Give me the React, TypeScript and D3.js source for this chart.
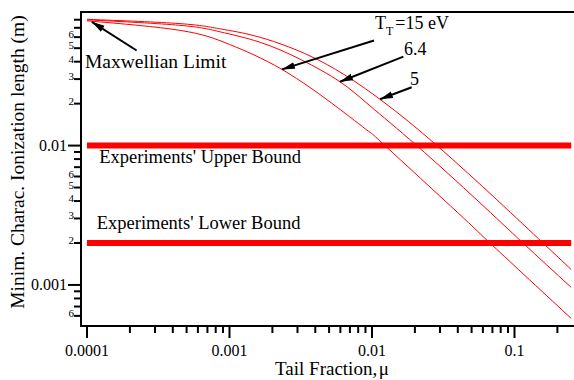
import * as d3 from 'd3'

// Tail fraction (x) and minimum characteristic ionization length (y) for each tail temperature
const MU_15 = [0.0001, 0.00045, 0.001, 0.00233, 0.00577, 0.00968, 0.01233, 0.04, 0.0673, 0.25]
const LEN_15 = [0.0786, 0.0671, 0.0532, 0.03524, 0.01865, 0.01244, 0.01, 0.0033, 0.002, 0.000575]

const MU_64 = [0.0001, 0.00045, 0.00086, 0.00164, 0.0032, 0.00596, 0.00968, 0.0206, 0.0555, 0.1147, 0.25]
const LEN_64 = [0.0799, 0.0729, 0.0655, 0.0551, 0.0412, 0.0287, 0.01928, 0.01, 0.004, 0.002, 0.00096]

const MU_5 = [0.0001, 0.00045, 0.00086, 0.00164, 0.00431, 0.01137, 0.02858, 0.0753, 0.1585, 0.25]
const LEN_5 = [0.0805, 0.075, 0.0688, 0.0598, 0.0406, 0.0215, 0.01, 0.00408, 0.002, 0.00129]

const UPPER_BOUND = 0.01
const LOWER_BOUND = 0.002

const X_MAJOR = [0.0001, 0.001, 0.01, 0.1]
const X_MAJOR_LABELS = ['0.0001', '0.001', '0.01', '0.1']
const Y_MAJOR = [0.001, 0.01]
const Y_MAJOR_LABELS = ['0.001', '0.01']
const Y_MINOR_LABELED = [2, 3, 4, 5, 6]

const W = 574
const H = 380
const FONT = '"Liberation Serif", "Times New Roman", serif'

const x = d3.scaleLog().domain([0.0001, 0.25]).range([87, 571.2])
const y = d3.scaleLog().domain([0.0005, 0.09]).range([326.9, 12.6])

const frameLeft = x(0.0001) - 6
const frameBottom = 326
const frameTop = 12

const line = d3.line<[number, number]>()
  .x(d => x(d[0]))
  .y(d => y(d[1]))
  .curve(d3.curveNatural)

const zip = (a: number[], b: number[]) => a.map((v, i) => [v, b[i]] as [number, number])

// minor ticks: 2..9 of each decade inside the domains
const xMinor: number[] = []
for (let e = -4; e <= -1; e++) {
  for (let k = 2; k <= 9; k++) {
    const v = k * Math.pow(10, e)
    if (v <= 0.25) xMinor.push(v)
  }
}
const yMinor: { v: number; k: number }[] = []
for (let e = -4; e <= -2; e++) {
  for (let k = 2; k <= 9; k++) {
    const v = k * Math.pow(10, e)
    if (v > 0.00055 && v < 0.085) yMinor.push({ v, k })
  }
}

// annotations: [tail mu, tail len, tip mu, tip len]
const ARROWS = [
  [0.000223, 0.0481, 0.000108, 0.0773],
  [0.01033, 0.0568, 0.00233, 0.0352],
  [0.0166, 0.0435, 0.00596, 0.0287],
  [0.019, 0.0262, 0.01137, 0.0215],
]

export default function App() {
  const curves = [zip(MU_15, LEN_15), zip(MU_64, LEN_64), zip(MU_5, LEN_5)]
  return (
    <svg width={W} height={H} style={{ position: 'absolute', left: 0, top: 0, background: '#fff' }} fontFamily={FONT}>
      <defs>
        <marker id="head" markerUnits="userSpaceOnUse" markerWidth="14" markerHeight="8" refX="13" refY="4" orient="auto">
          <path d="M0,0.5 L13,4 L0,7.5 Z" fill="#000" />
        </marker>
      </defs>

      {/* experimental bounds */}
      {[UPPER_BOUND, LOWER_BOUND].map(b => (
        <line key={b} x1={x(0.0001)} x2={x(0.25)} y1={y(b)} y2={y(b)} stroke="#ff0000" strokeWidth={6} />
      ))}

      {/* curves */}
      {curves.map((c, i) => (
        <path key={i} d={line(c) || ''} fill="none" stroke="#ff0000" strokeWidth={1} />
      ))}

      {/* frame */}
      <line x1={frameLeft} x2={frameLeft} y1={frameTop} y2={frameBottom + 1} stroke="#000" strokeWidth={2} />
      <line x1={frameLeft - 1} x2={W} y1={frameBottom} y2={frameBottom} stroke="#000" strokeWidth={2} />
      <line x1={frameLeft - 1} x2={W} y1={frameTop} y2={frameTop} stroke="#000" strokeWidth={2} />

      {/* x ticks */}
      {X_MAJOR.map((v, i) => (
        <g key={v}>
          <line x1={x(v)} x2={x(v)} y1={frameBottom} y2={frameBottom + 12} stroke="#000" strokeWidth={2} />
          <text x={x(v)} y={356} textAnchor="middle" fontSize={16}>{X_MAJOR_LABELS[i]}</text>
        </g>
      ))}
      {xMinor.map(v => (
        <line key={v} x1={x(v)} x2={x(v)} y1={frameBottom} y2={frameBottom + 7} stroke="#000" strokeWidth={2} />
      ))}

      {/* y ticks */}
      {Y_MAJOR.map((v, i) => (
        <g key={v}>
          <line x1={frameLeft - 13} x2={frameLeft} y1={y(v)} y2={y(v)} stroke="#000" strokeWidth={2} />
          <text x={frameLeft - 14} y={y(v) + 5} textAnchor="end" fontSize={16}>{Y_MAJOR_LABELS[i]}</text>
        </g>
      ))}
      {yMinor.map(({ v, k }) => (
        <g key={v}>
          <line x1={frameLeft - 7} x2={frameLeft} y1={y(v)} y2={y(v)} stroke="#000" strokeWidth={2} />
          {Y_MINOR_LABELED.includes(k) && (
            <text x={frameLeft - 7} y={y(v) + 1} textAnchor="end" fontSize={11}>{k}</text>
          )}
        </g>
      ))}

      {/* axis titles */}
      <text x={332} y={375} textAnchor="middle" fontSize={19}>Tail Fraction,&#8202;μ</text>
      <text transform={`translate(24,162) rotate(-90)`} textAnchor="middle" fontSize={19.5}>
        Minim. Charac. Ionization length (m)
      </text>

      {/* annotations */}
      {ARROWS.map((a, i) => (
        <line key={i} x1={x(a[0])} y1={y(a[1])} x2={x(a[2])} y2={y(a[3])} stroke="#000" strokeWidth={2} markerEnd="url(#head)" />
      ))}
      <text x={x(0.0000968)} y={y(0.0361)} fontSize={19.5}>Maxwellian Limit</text>
      <text x={x(0.0105)} y={y(0.0685)} fontSize={18}>
        T<tspan fontSize={12} dy={6}>T</tspan><tspan dy={-6} dx={2}>=15 eV</tspan>
      </text>
      <text x={x(0.0168)} y={y(0.0448)} fontSize={18}>6.4</text>
      <text x={x(0.0185)} y={y(0.027)} fontSize={18}>5</text>
      <text x={x(0.000122)} y={y(0.00748)} fontSize={18.5}>Experiments' Upper Bound</text>
      <text x={x(0.000117)} y={y(0.00251)} fontSize={18.5}>Experiments' Lower Bound</text>
    </svg>
  )
}
